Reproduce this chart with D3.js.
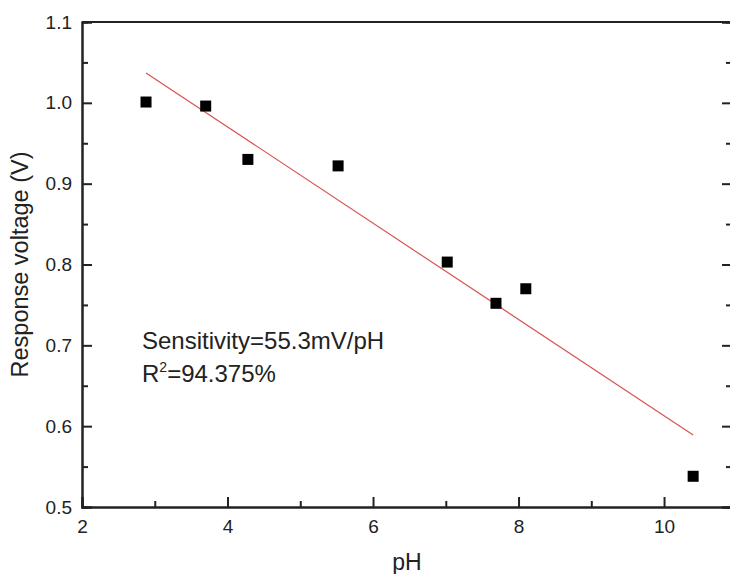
<!DOCTYPE html>
<html>
<head>
<meta charset="utf-8">
<script src="https://cdn.jsdelivr.net/npm/d3@7"></script>
<style>
  body { margin: 0; background: #fff; }
  svg { display: block; font-family: "Liberation Sans", Arial, sans-serif; }
</style>
</head>
<body>
<script>
// measured points
var phValues = [2.88, 3.70, 4.28, 5.52, 7.02, 7.69, 8.10, 10.40];
var voltValues = [1.001, 0.996, 0.930, 0.922, 0.803, 0.752, 0.770, 0.538];
// linear fit end points
var fitPh = [2.88, 10.40];
var fitVolt = [1.037, 0.589];

var xMajorTicks = [2, 4, 6, 8, 10];
var xMinorTicks = [3, 5, 7, 9];
var yMajorTicks = [0.5, 0.6, 0.7, 0.8, 0.9, 1.0, 1.1];
var yMinorTicks = [0.55, 0.65, 0.75, 0.85, 0.95, 1.05];

var width = 730, height = 574;
var plotLeft = 82, plotRight = 732, plotTop = 22, plotBottom = 507;
var markSize = 11;

var x = d3.scaleLinear().domain([2, 10.934]).range([plotLeft, plotRight]);
var y = d3.scaleLinear().domain([0.5, 1.1]).range([plotBottom, plotTop]);

var svg = d3.select('body').append('svg')
    .attr('width', width)
    .attr('height', height);

function styleAxis(g) {
    g.attr('font-size', 19).attr('font-family', '"Liberation Sans", Arial, sans-serif');
    g.select('.domain').attr('stroke', '#222').attr('stroke-width', 2);
    g.selectAll('.tick line').attr('stroke', '#222').attr('stroke-width', 2);
    g.selectAll('.tick text').attr('fill', '#222');
}

// frame top
svg.append('line')
    .attr('x1', plotLeft).attr('x2', plotRight)
    .attr('y1', plotTop).attr('y2', plotTop)
    .attr('stroke', '#222').attr('stroke-width', 2);

// bottom axis
svg.append('g')
    .attr('transform', 'translate(0,' + plotBottom + ')')
    .call(d3.axisBottom(x).tickValues(xMajorTicks).tickSize(-10).tickPadding(13).tickFormat(d3.format('d')))
    .call(styleAxis);
svg.append('g')
    .attr('transform', 'translate(0,' + plotBottom + ')')
    .call(d3.axisBottom(x).tickValues(xMinorTicks).tickSize(-6).tickFormat(''))
    .call(styleAxis);

// left axis
svg.append('g')
    .attr('transform', 'translate(' + plotLeft + ',0)')
    .call(d3.axisLeft(y).tickValues(yMajorTicks).tickSize(-10).tickPadding(10).tickFormat(d3.format('.1f')))
    .call(styleAxis);
svg.append('g')
    .attr('transform', 'translate(' + plotLeft + ',0)')
    .call(d3.axisLeft(y).tickValues(yMinorTicks).tickSize(-6).tickFormat(''))
    .call(styleAxis);

// right axis (ticks only)
svg.append('g')
    .attr('transform', 'translate(' + plotRight + ',0)')
    .call(d3.axisRight(y).tickValues(yMajorTicks).tickSize(-10).tickFormat(''))
    .call(styleAxis);
svg.append('g')
    .attr('transform', 'translate(' + plotRight + ',0)')
    .call(d3.axisRight(y).tickValues(yMinorTicks).tickSize(-6).tickFormat(''))
    .call(styleAxis);

// fit line
svg.append('line')
    .attr('x1', x(fitPh[0])).attr('y1', y(fitVolt[0]))
    .attr('x2', x(fitPh[1])).attr('y2', y(fitVolt[1]))
    .attr('stroke', '#d9534f')
    .attr('stroke-width', 1.2);

// points
svg.selectAll('rect.pt')
    .data(phValues)
    .enter().append('rect')
    .attr('class', 'pt')
    .attr('x', function(d) { return x(d) - markSize / 2; })
    .attr('y', function(d, i) { return y(voltValues[i]) - markSize / 2; })
    .attr('width', markSize)
    .attr('height', markSize)
    .attr('fill', '#000');

// annotations
svg.append('text')
    .attr('x', 142).attr('y', 349)
    .attr('font-size', 24).attr('fill', '#222')
    .text('Sensitivity=55.3mV/pH');
var r2 = svg.append('text')
    .attr('x', 142).attr('y', 382)
    .attr('font-size', 24).attr('fill', '#222');
r2.append('tspan').text('R');
r2.append('tspan').attr('font-size', 14).attr('dy', -10).text('2');
r2.append('tspan').attr('dy', 10).text('=94.375%');

// axis titles
svg.append('text')
    .attr('x', (plotLeft + plotRight) / 2).attr('y', 570)
    .attr('text-anchor', 'middle')
    .attr('font-size', 23).attr('fill', '#222')
    .text('pH');
svg.append('text')
    .attr('transform', 'translate(28,' + (plotTop + plotBottom) / 2 + ') rotate(-90)')
    .attr('text-anchor', 'middle')
    .attr('font-size', 23.5).attr('fill', '#222')
    .text('Response voltage (V)');
</script>
</body>
</html>
